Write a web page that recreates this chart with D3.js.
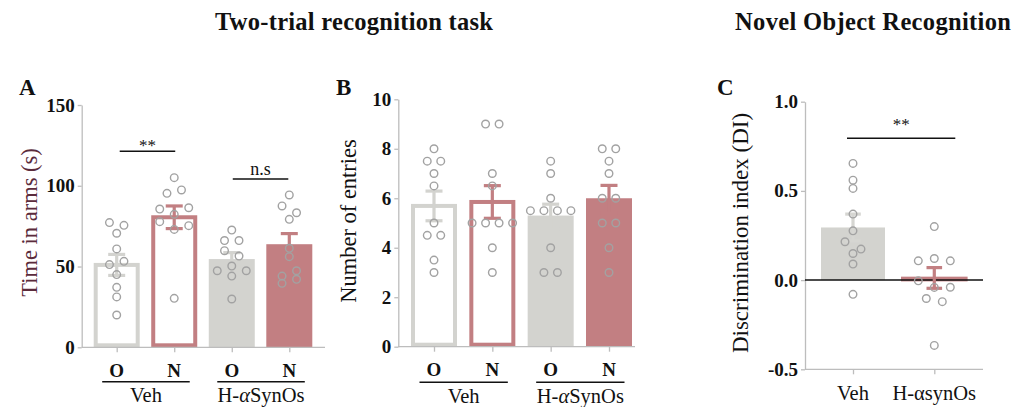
<!DOCTYPE html>
<html>
<head>
<meta charset="utf-8">
<script src="https://cdn.jsdelivr.net/npm/d3@7/dist/d3.min.js"></script>
<style>
  html, body { margin: 0; padding: 0; background: #fff; }
  svg { display: block; font-family: "Liberation Serif", "DejaVu Serif", serif; }
</style>
</head>
<body>
<script>
// ---------------- DATA ----------------
const conditions = ["O", "N", "O", "N"];
const groupsAB = ["Veh", "H-αSynOs"];

// Panel A: Time in arms (s)
const timeTicks = [0, 50, 100, 150];
const timeMeans = [51, 80.5, 54, 63.2];
const timeSem = [6.5, 7, 4.6, 7.2];
const timeOVeh = [77.2, 75.5, 70.6, 60.9, 51.2, 53.2, 45, 37.1, 31.2, 20];
const timeNVeh = [105, 95.3, 97.4, 85.6, 82.3, 86.4, 77.8, 73, 75.3, 30.3];
const timeOH = [72.6, 66.1, 66.1, 59.8, 56.5, 47.4, 50.3, 47.4, 44.1, 29.9];
const timeNH = [94.3, 87.5, 83.3, 79.2, 61.3, 56.1, 44.1, 47.4, 39.6, 42.1];

// Panel B: Number of entries
const entryTicks = [0, 2, 4, 6, 8, 10];
const entryMeans = [5.69, 5.85, 5.26, 5.96];
const entrySem = [0.6, 0.66, 0.5, 0.56];
const entOVeh = [8, 7.5, 7.5, 7, 6.5, 5, 4.5, 4.5, 3.5, 3];
const entNVeh = [9, 9, 7, 6.5, 5, 5, 5, 5, 4, 3];
const entOH = [7.5, 7, 6, 5.5, 5.5, 5.5, 5.5, 4, 3, 3];
const entNH = [8, 8, 7.5, 7, 6, 6, 5, 5, 4, 3];

// Panel C: Discrimination index
const groupsC = ["Veh", "H-αsynOs"];
const diTicks = [-0.5, 0, 0.5, 1.0];
const diMeans = [0.295, 0.012];
const diSem = [0.075, 0.058];
const diVeh = [0.654, 0.56, 0.514, 0.37, 0.276, 0.215, 0.174, 0.149, 0.09, -0.08];
const diH = [0.30, 0.108, 0.121, 0.108, -0.004, -0.041, -0.04, -0.103, -0.121, -0.366];

// ---------------- STYLE ----------------
const GREY = "#d3d3cf", ROSE = "#c27f82", DOT = "#a2a2a2", AXIS = "#bdbdbd";
const barStroke = [GREY, ROSE, GREY, ROSE];
const barFill = ["#fff", "#fff", GREY, ROSE];
const barOutlined = [true, true, false, false];

const svg = d3.select("body").append("svg").attr("width", 1026).attr("height", 407);

// cluster-and-spread layout for scatter points
function spread(values, y, spacing, thr = 8) {
  const idx = values.map((v, i) => i);
  idx.sort((a, b) => y(values[a]) - y(values[b]));
  const offs = new Array(values.length).fill(0);
  let cluster = [], start = null;
  const flush = () => {
    const m = cluster.slice().sort((a, b) => a - b);
    m.forEach((k, j) => { offs[k] = (j - (m.length - 1) / 2) * spacing; });
  };
  idx.forEach(i => {
    const py = y(values[i]);
    if (start === null || py - start >= thr) {
      if (cluster.length) flush();
      cluster = [i]; start = py;
    } else cluster.push(i);
  });
  if (cluster.length) flush();
  return offs;
}

function styleYAxis(g) {
  g.select(".domain").attr("stroke", AXIS).attr("stroke-width", 1.3);
  g.selectAll(".tick line").attr("stroke", AXIS).attr("stroke-width", 1.3);
  g.selectAll(".tick text").attr("font-family", "Liberation Serif, serif")
    .attr("font-size", 19).attr("font-weight", "bold").attr("fill", "#111");
}

function barPanel(cfg) {
  const g = svg.append("g");
  const y = d3.scaleLinear().domain([cfg.ticks[0], cfg.ticks[cfg.ticks.length - 1]]).range([cfg.y0, cfg.y1]);
  const x = d3.scalePoint().domain(d3.range(4)).range([cfg.c0, cfg.c3]);
  const bw = 46, sw = 4;

  g.append("g").attr("transform", `translate(${cfg.axisX},0)`)
    .call(d3.axisLeft(y).tickValues(cfg.ticks).tickSize(4).tickSizeOuter(0).tickPadding(3))
    .call(styleYAxis);

  cfg.means.forEach((m, i) => {
    if (barOutlined[i]) {
      g.append("rect").attr("x", x(i) - bw / 2 + sw / 2).attr("width", bw - sw)
        .attr("y", y(m)).attr("height", y(0) - y(m) - sw / 2)
        .attr("fill", barFill[i]).attr("stroke", barStroke[i]).attr("stroke-width", sw);
    } else {
      g.append("rect").attr("x", x(i) - bw / 2).attr("width", bw)
        .attr("y", y(m) - 1).attr("height", y(0) - y(m) + 1)
        .attr("fill", barFill[i]);
    }
  });

  g.append("line").attr("x1", cfg.axisX).attr("x2", cfg.axisEnd)
    .attr("y1", y(0)).attr("y2", y(0)).attr("stroke", AXIS).attr("stroke-width", 1.3);
  const bx = g.append("g").attr("transform", `translate(0,${y(0)})`)
    .call(d3.axisBottom(x).tickSize(5).tickFormat(""));
  bx.select(".domain").remove();
  bx.selectAll(".tick line").attr("stroke", AXIS).attr("stroke-width", 1.3);

  cfg.means.forEach((m, i) => {
    const s = cfg.sem[i], c = x(i);
    const eg = g.append("g").attr("stroke", barStroke[i]).attr("stroke-width", 3.2);
    eg.append("line").attr("x1", c).attr("x2", c).attr("y1", y(m + s)).attr("y2", y(m - s));
    eg.append("line").attr("x1", c - 8.5).attr("x2", c + 8.5).attr("y1", y(m + s)).attr("y2", y(m + s));
    eg.append("line").attr("x1", c - 8.5).attr("x2", c + 8.5).attr("y1", y(m - s)).attr("y2", y(m - s));
  });

  cfg.points.forEach((vals, i) => {
    const offs = spread(vals, y, cfg.spacing);
    g.selectAll(null).data(vals).enter().append("circle")
      .attr("cx", (d, k) => x(i) + offs[k]).attr("cy", d => y(d)).attr("r", 3.8)
      .attr("fill", "none").attr("stroke", DOT).attr("stroke-width", 1.4);
  });

  conditions.forEach((c, i) => {
    g.append("text").attr("x", x(i)).attr("y", cfg.catY).attr("text-anchor", "middle")
      .attr("font-size", 19).attr("font-weight", "bold").attr("fill", "#111").text(c);
  });
  groupsAB.forEach((grp, j) => {
    const a = x(2 * j) - 14.5, b = x(2 * j + 1) + 15.5;
    g.append("line").attr("x1", a).attr("x2", b).attr("y1", cfg.lineY).attr("y2", cfg.lineY)
      .attr("stroke", "#111").attr("stroke-width", 1.5);
    const t = g.append("text").attr("x", (a + b) / 2).attr("y", cfg.grpY).attr("text-anchor", "middle")
      .attr("font-size", 20.5).attr("fill", "#111");
    const parts = grp.split("α");
    if (parts.length > 1) {
      t.append("tspan").text(parts[0]);
      t.append("tspan").attr("font-style", "italic").text("α");
      t.append("tspan").text(parts[1]);
    } else t.text(grp);
  });

  g.append("text").attr("transform", `translate(${cfg.labelX},${cfg.labelY}) rotate(-90)`)
    .attr("text-anchor", "middle").attr("font-size", 22.5).attr("fill", cfg.labelColor).text(cfg.label);

  g.append("text").attr("x", cfg.letterX).attr("y", 95).attr("font-size", 23)
    .attr("font-weight", "bold").attr("fill", "#111").text(cfg.letter);

  return { g, x, y };
}

function sig(g, x1, x2, ly, text, ty, size) {
  g.append("line").attr("x1", x1).attr("x2", x2).attr("y1", ly).attr("y2", ly)
    .attr("stroke", "#111").attr("stroke-width", 1.5);
  g.append("text").attr("x", (x1 + x2) / 2).attr("y", ty).attr("text-anchor", "middle")
    .attr("font-size", size).attr("fill", "#111").text(text);
}

// ---- Panel A
const A = barPanel({
  ticks: timeTicks, means: timeMeans, sem: timeSem,
  points: [timeOVeh, timeNVeh, timeOH, timeNH],
  y0: 347.3, y1: 105, c0: 116.7, c3: 289.3, axisX: 81.7, axisEnd: 325, spacing: 14.5,
  catY: 377, lineY: 381.7, grpY: 401.5,
  label: "Time in arms (s)", labelX: 37, labelY: 222.5, labelColor: "#5b2b3b",
  letter: "A", letterX: 19
});
sig(A.g, A.x(0) + 3, A.x(1) + 1, 151.3, "**", 151, 17);
sig(A.g, A.x(2) + 1, A.x(3) - 1, 179, "n.s", 175, 18);

// ---- Panel B
barPanel({
  ticks: entryTicks, means: entryMeans, sem: entrySem,
  points: [entOVeh, entNVeh, entOH, entNH],
  y0: 346.7, y1: 99.3, c0: 434, c3: 609, axisX: 398.3, axisEnd: 635, spacing: 13.5,
  catY: 376, lineY: 382.3, grpY: 402.5,
  label: "Number of entries", labelX: 356, labelY: 221, labelColor: "#111",
  letter: "B", letterX: 336
});

// ---- Panel C
(function () {
  const g = svg.append("g");
  const y = d3.scaleLinear().domain([diTicks[0], diTicks[diTicks.length - 1]]).range([369.3, 101.7]);
  const x = d3.scalePoint().domain(groupsC).range([853, 934.3]);
  const axisX = 805, axisEnd = 983, bw = 64;
  const fills = [GREY, ROSE];

  g.append("g").attr("transform", `translate(${axisX},0)`)
    .call(d3.axisLeft(y).tickValues(diTicks).tickSize(4).tickSizeOuter(0).tickPadding(3)
      .tickFormat(d => d.toFixed(1)))
    .call(styleYAxis);

  diMeans.forEach((m, i) => {
    const c = x(groupsC[i]);
    g.append("rect").attr("x", c - bw / 2).attr("width", bw)
      .attr("y", y(Math.max(m, 0))).attr("height", Math.abs(y(0) - y(m)))
      .attr("fill", fills[i]).attr("stroke", i === 1 ? ROSE : "none").attr("stroke-width", 2.6);
  });

  g.append("line").attr("x1", axisX).attr("x2", axisEnd).attr("y1", y(-0.5)).attr("y2", y(-0.5))
    .attr("stroke", AXIS).attr("stroke-width", 1.3);
  const bx = g.append("g").attr("transform", `translate(0,${y(-0.5)})`)
    .call(d3.axisBottom(x).tickSize(5).tickFormat(""));
  bx.select(".domain").remove();
  bx.selectAll(".tick line").attr("stroke", AXIS).attr("stroke-width", 1.3);

  g.append("line").attr("x1", axisX).attr("x2", axisEnd).attr("y1", y(0)).attr("y2", y(0))
    .attr("stroke", "#111").attr("stroke-width", 1.5);

  diMeans.forEach((m, i) => {
    const s = diSem[i], c = x(groupsC[i]);
    const col = i === 0 ? "#d6d6d2" : ROSE;
    const eg = g.append("g").attr("stroke", col).attr("stroke-width", 3.2);
    eg.append("line").attr("x1", c).attr("x2", c).attr("y1", y(m + s)).attr("y2", y(m - s));
    eg.append("line").attr("x1", c - 7.8).attr("x2", c + 7.8).attr("y1", y(m + s)).attr("y2", y(m + s));
    eg.append("line").attr("x1", c - 7.8).attr("x2", c + 7.8).attr("y1", y(m - s)).attr("y2", y(m - s));
  });

  [diVeh, diH].forEach((vals, i) => {
    const offs = spread(vals, y, 16);
    g.selectAll(null).data(vals).enter().append("circle")
      .attr("cx", (d, k) => x(groupsC[i]) + offs[k]).attr("cy", d => y(d)).attr("r", 3.8)
      .attr("fill", "none").attr("stroke", DOT).attr("stroke-width", 1.4);
  });

  groupsC.forEach(grp => {
    g.append("text").attr("x", x(grp)).attr("y", 400).attr("text-anchor", "middle")
      .attr("font-size", 20.5).attr("fill", "#111").text(grp);
  });

  const l1 = x(groupsC[0]) - 6, l2 = x(groupsC[1]) + 21;
  g.append("line").attr("x1", l1).attr("x2", l2).attr("y1", 138.3).attr("y2", 138.3)
    .attr("stroke", "#111").attr("stroke-width", 1.5);
  g.append("text").attr("x", (l1 + l2) / 2).attr("y", 130).attr("text-anchor", "middle")
    .attr("font-size", 17).attr("fill", "#111").text("**");

  g.append("text").attr("transform", `translate(748,233) rotate(-90)`)
    .attr("text-anchor", "middle").attr("font-size", 23).attr("fill", "#111")
    .text("Discrimination index (DI)");

  g.append("text").attr("x", 717).attr("y", 95).attr("font-size", 23)
    .attr("font-weight", "bold").attr("fill", "#111").text("C");
})();

// ---- Titles
svg.append("text").attr("x", 354).attr("y", 30).attr("text-anchor", "middle")
  .attr("font-size", 24.5).attr("font-weight", "bold").attr("fill", "#111")
  .attr("textLength", 278).attr("lengthAdjust", "spacing")
  .text("Two-trial recognition task");
svg.append("text").attr("x", 873).attr("y", 29.5).attr("text-anchor", "middle")
  .attr("font-size", 24.5).attr("font-weight", "bold").attr("fill", "#111")
  .attr("textLength", 276).attr("lengthAdjust", "spacing")
  .text("Novel Object Recognition");
</script>
</body>
</html>
